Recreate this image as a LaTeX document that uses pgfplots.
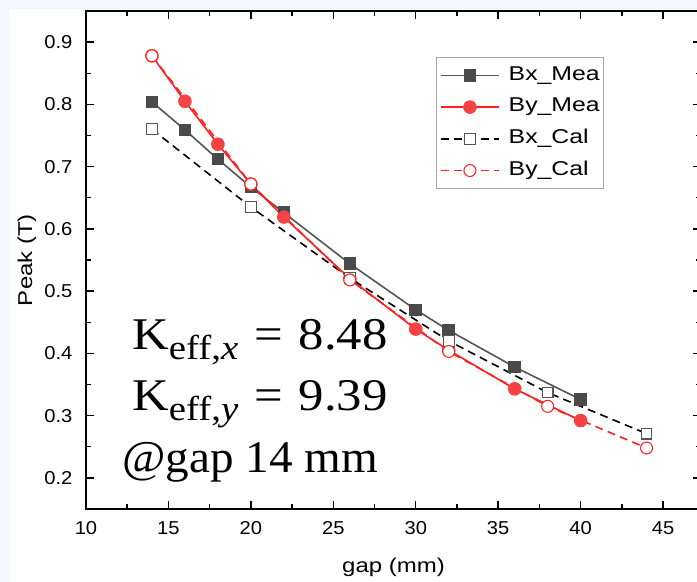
\documentclass[border=0pt]{standalone}
\usepackage{pgfplots}
\pgfplotsset{compat=1.18}
\usetikzlibrary{calc,backgrounds}
\usepackage{fontspec}
\setmainfont{Liberation Sans}
\newfontfamily\tickfont[FakeStretch=1.08]{Liberation Sans}
\newfontfamily\labfont[FakeStretch=1.2]{Liberation Sans}
\newfontfamily\legfont[FakeStretch=1.24]{Liberation Sans}
\newfontfamily\annfont[FakeStretch=1.12]{Liberation Serif}
\newfontfamily\annfontb[FakeStretch=1.04]{Liberation Serif}
\definecolor{bgblue}{HTML}{F3F6FC}
\definecolor{bxgray}{HTML}{555555}
\definecolor{bxfill}{HTML}{4A4A4A}
\definecolor{byred}{HTML}{FF2020}
\definecolor{byfill}{HTML}{F54242}
\begin{document}
\begin{tikzpicture}[x=0.75pt,y=0.75pt]
\begin{axis}[
  name=ax, at={(0,0)}, anchor=south west,
  scale only axis, width=461.25pt, height=373.5pt,
  xmin=10, xmax=47.3, ymin=0.15, ymax=0.95,
  xtick={10,15,...,45}, ytick={0.2,0.3,...,0.9},
  minor x tick num=1, minor y tick num=1,
  tick align=inside,
  major tick length=6pt, minor tick length=3.5pt,
  axis line style={line width=1.5pt},
  every tick/.style={line width=1.1pt, black},
  /pgf/number format/assume math mode=true,
  ticklabel style={font=\tickfont\fontsize{14}{16}\selectfont, inner sep=0pt},
  yticklabel style={/pgf/number format/fixed, /pgf/number format/fixed zerofill, /pgf/number format/precision=1, xshift=-10pt},
  xticklabel style={yshift=-9pt},
  xlabel={gap (mm)}, ylabel={Peak (T)},
  label style={font=\labfont\fontsize{15}{18}\selectfont},
  xlabel style={at={(axis description cs:0.5,-0.1165)}, anchor=center},
  ylabel style={at={(axis description cs:-0.0959,0.5)}, anchor=center},
  legend style={at={(axis description cs:0.569,0.908)}, anchor=north west,
    draw=gray!70, line width=0.8pt, font=\legfont\fontsize{15}{18}\selectfont,
    nodes={inner sep=0pt, text height=11pt, text depth=4pt},
    row sep=8.8pt, column sep=6.5pt, inner xsep=2.5pt, inner ysep=6pt},
  legend cell align=left,
  legend image code/.code={\draw[mark repeat=2,mark phase=2,#1] plot coordinates {(0pt,0pt)(22pt,0pt)(44pt,0pt)};},
]
\addplot[color=bxgray, line width=1.2pt, mark=square*, mark size=4.1pt, mark options={solid, fill=bxfill, draw=bxfill}]
 coordinates {(14,0.804)(16,0.759)(18,0.712)(20,0.667)(22,0.626)(26,0.544)(30,0.470)(32,0.437)(36,0.378)(40,0.326)};
\addlegendentry{Bx\_Mea}
\addplot[color=byred, line width=1.2pt, mark=*, mark size=4.5pt, mark options={solid, fill=byfill, draw=byfill}]
 coordinates {(14,0.878)(16,0.805)(18,0.736)(20,0.672)(22,0.619)(26,0.520)(30,0.439)(32,0.405)(36,0.343)(40,0.292)};
\addlegendentry{By\_Mea}
\addplot[color=black, line width=1.2pt, dash pattern=on 6pt off 4pt, mark=square*, mark size=4pt, mark options={solid, fill=white, draw=bxgray, line width=0.8pt}]
 coordinates {(14,0.760)(20,0.635)(26,0.521)(32,0.420)(38,0.337)(44,0.271)};
\addlegendentry{Bx\_Cal}
\addplot[color=byred, line width=1.2pt, dash pattern=on 6pt off 4pt, mark=*, mark size=4.5pt, mark options={solid, fill=white, draw=byred, line width=0.8pt}]
 coordinates {(14,0.878)(20,0.672)(26,0.518)(32,0.403)(38,0.315)(44,0.248)};
\addlegendentry{By\_Cal}
\end{axis}
\begin{pgfonlayer}{background}
\fill[bgblue] ($(ax.south west)+(-86,-73)$) rectangle ($(ax.south west)+(611,509)$);
\fill[white] ($(ax.south west)+(-77,-73)$) rectangle ($(ax.south west)+(611,500)$);
\end{pgfonlayer}
\node[anchor=base west, inner sep=0] at ($(ax.south west)+(46,159)$) {\annfont\fontsize{34}{40}\selectfont K\lower7pt\hbox{\fontsize{26}{30}\selectfont eff,\textit{x}}\hspace{12pt}=\hspace{12pt}8.48};
\node[anchor=base west, inner sep=0] at ($(ax.south west)+(46,98)$) {\annfont\fontsize{34}{40}\selectfont K\lower7pt\hbox{\fontsize{26}{30}\selectfont eff,\textit{y}}\hspace{12pt}=\hspace{12pt}9.39};
\node[anchor=base west, inner sep=0] at ($(ax.south west)+(36,36)$) {\annfontb\fontsize{34}{40}\selectfont @gap 14 mm};
\pgfresetboundingbox
\path[use as bounding box] ($(ax.south west)+(-86,-73)$) rectangle ($(ax.south west)+(611,509)$);
\end{tikzpicture}
\end{document}
